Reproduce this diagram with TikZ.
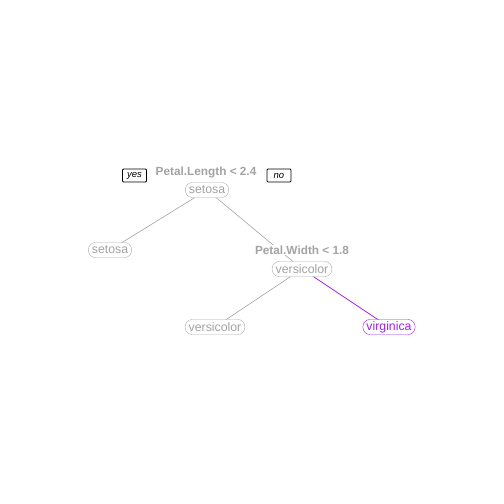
\documentclass[tikz,border=0pt]{standalone}
\usepackage{fontspec}
\setmainfont{Liberation Sans}
\usetikzlibrary{backgrounds}
\definecolor{lgray}{HTML}{A3A3A3}
\definecolor{bgray}{HTML}{ABABAB}
\definecolor{rpurple}{HTML}{A020F0}
\tikzset{
  leafbox/.style={draw=bgray, text=lgray, fill=white, rounded corners=7pt, inner sep=1.2pt, inner xsep=3.5pt, minimum height=15pt, font=\fontsize{12.3}{13}\selectfont},
  splitlab/.style={text=lgray, fill=white, inner sep=0.5pt, font=\fontsize{11.8}{12}\selectfont\bfseries},
  tagbox/.style={draw=black, line width=0.9pt, fill=white, inner sep=1pt, minimum width=24pt, minimum height=13pt, rounded corners=1pt, font=\fontsize{9.5}{10}\selectfont\itshape},
  edge/.style={draw=lgray, line width=0.6pt},
  pedge/.style={draw=rpurple, line width=0.7pt}
}
\begin{document}
\begin{tikzpicture}[x=1pt,y=-1pt]
\useasboundingbox (0,0) rectangle (504,504);
\node[splitlab] (s1) at (206,172) {Petal.Length < 2.4};
\node[leafbox] (n1) at (207,190) {setosa};
\node[tagbox] (yes) at (134.5,175.5) {yes};
\node[tagbox] (no) at (279,175.5) {no};
\node[leafbox] (n2) at (110,250) {setosa};
\node[splitlab] (s3) at (302,250) {Petal.Width < 1.8};
\node[leafbox] (n3) at (302,269) {versicolor};
\node[leafbox] (n6) at (215,327) {versicolor};
\node[leafbox, draw=rpurple, text=rpurple] (n7) at (389,327) {virginica};
\begin{pgfonlayer}{background}
\draw[edge] (n1.center) -- (n2.center);
\draw[edge] (n1.center) -- (n3.center);
\draw[edge] (n3.center) -- (n6.center);
\draw[pedge] (n3.center) -- (n7.center);
\end{pgfonlayer}
\end{tikzpicture}
\end{document}
